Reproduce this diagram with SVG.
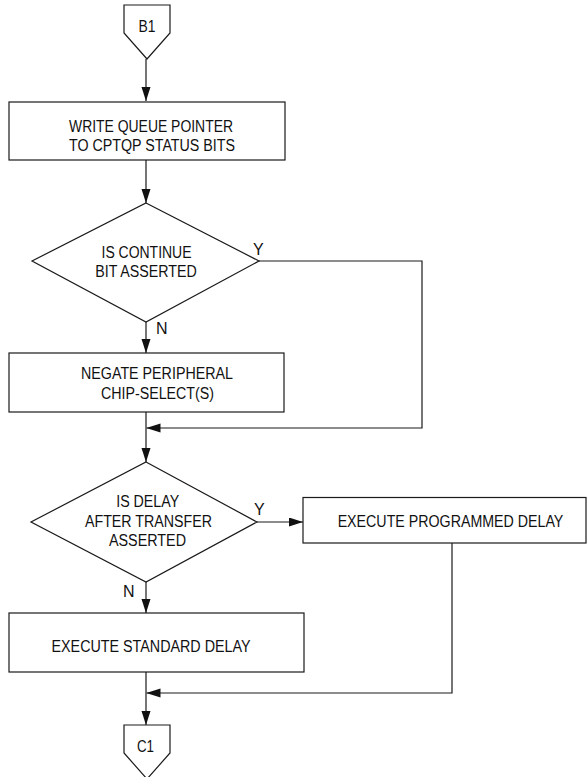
<svg xmlns="http://www.w3.org/2000/svg" width="588" height="777" viewBox="0 0 588 777">
  <style>
    .shape { fill: #ffffff; stroke: #1a1a1a; stroke-width: 1.2; }
    .conn { fill: none; stroke: #1a1a1a; stroke-width: 1.2; }
    text { font-family: "Liberation Sans", Arial, Helvetica, sans-serif; font-size: 16px; fill: #111111; }
    .c { text-anchor: middle; }
  </style>
  <defs>
    <marker id="arrow" markerUnits="userSpaceOnUse" markerWidth="14" markerHeight="10" refX="14" refY="4.5" orient="auto">
      <path d="M0,0 L14,4.5 L0,9 z" fill="#111111"/>
    </marker>
  </defs>
  <rect x="0" y="0" width="588" height="777" fill="#ffffff"/>

  <g id="connectors">
    <path class="conn" d="M146,59 V101" marker-end="url(#arrow)"/>
    <path class="conn" d="M146,160 V203" marker-end="url(#arrow)"/>
    <path class="conn" d="M146,322 V353" marker-end="url(#arrow)"/>
    <path class="conn" d="M259,261 H422 V428 H146.5" marker-end="url(#arrow)"/>
    <path class="conn" d="M146,412 V462" marker-end="url(#arrow)"/>
    <path class="conn" d="M257,522 H303" marker-end="url(#arrow)"/>
    <path class="conn" d="M146,582 V613" marker-end="url(#arrow)"/>
    <path class="conn" d="M452,543 V693 H146.5" marker-end="url(#arrow)"/>
    <path class="conn" d="M146,672 V725" marker-end="url(#arrow)"/>
    <text x="253" y="255">Y</text>
    <text x="156" y="334">N</text>
    <text x="254" y="515">Y</text>
    <text x="123" y="597">N</text>
  </g>

  <g id="B1">
    <path class="shape" d="M124,5 H170 V33 L147,59 L124,33 Z"/>
    <text class="c" x="147" y="31.5" textLength="17" lengthAdjust="spacingAndGlyphs">B1</text>
  </g>

  <g id="write-queue-pointer">
    <rect class="shape" x="9" y="102" width="276" height="58"/>
    <text class="c" x="151" y="131.5" textLength="164" lengthAdjust="spacingAndGlyphs">WRITE QUEUE POINTER</text>
    <text class="c" x="152" y="150.8" textLength="166" lengthAdjust="spacingAndGlyphs">TO CPTQP STATUS BITS</text>
  </g>

  <g id="is-continue">
    <path class="shape" d="M146,203 L259,261 L146,322 L32,261 Z"/>
    <text class="c" x="146.5" y="257.7" textLength="90" lengthAdjust="spacingAndGlyphs">IS CONTINUE</text>
    <text class="c" x="146" y="276.7" textLength="101.5" lengthAdjust="spacingAndGlyphs">BIT ASSERTED</text>
  </g>

  <g id="negate-peripheral">
    <rect class="shape" x="9" y="353" width="275" height="59"/>
    <text class="c" x="157" y="379.4" textLength="152" lengthAdjust="spacingAndGlyphs">NEGATE PERIPHERAL</text>
    <text class="c" x="157.5" y="399.4" textLength="113" lengthAdjust="spacingAndGlyphs">CHIP-SELECT(S)</text>
  </g>

  <g id="is-delay">
    <path class="shape" d="M146,462 L257,522 L146,582 L31,522 Z"/>
    <text class="c" x="147.7" y="506.6" textLength="63" lengthAdjust="spacingAndGlyphs">IS DELAY</text>
    <text class="c" x="148.5" y="526.6" textLength="127" lengthAdjust="spacingAndGlyphs">AFTER TRANSFER</text>
    <text class="c" x="147.5" y="546" textLength="77" lengthAdjust="spacingAndGlyphs">ASSERTED</text>
  </g>

  <g id="execute-programmed-delay">
    <rect class="shape" x="303" y="497.5" width="283" height="45.5"/>
    <text class="c" transform="translate(450.5,526.7) scale(0.89,1)" x="0" y="0">EXECUTE PROGRAMMED DELAY</text>
  </g>

  <g id="execute-standard-delay">
    <rect class="shape" x="9" y="613" width="295" height="59"/>
    <text class="c" x="151" y="651.7" textLength="199" lengthAdjust="spacingAndGlyphs">EXECUTE STANDARD DELAY</text>
  </g>

  <g id="C1">
    <path class="shape" d="M124,725 H170 V753 L147,779 L124,753 Z"/>
    <text class="c" x="145.5" y="751.5" textLength="17" lengthAdjust="spacingAndGlyphs">C1</text>
  </g>
</svg>
